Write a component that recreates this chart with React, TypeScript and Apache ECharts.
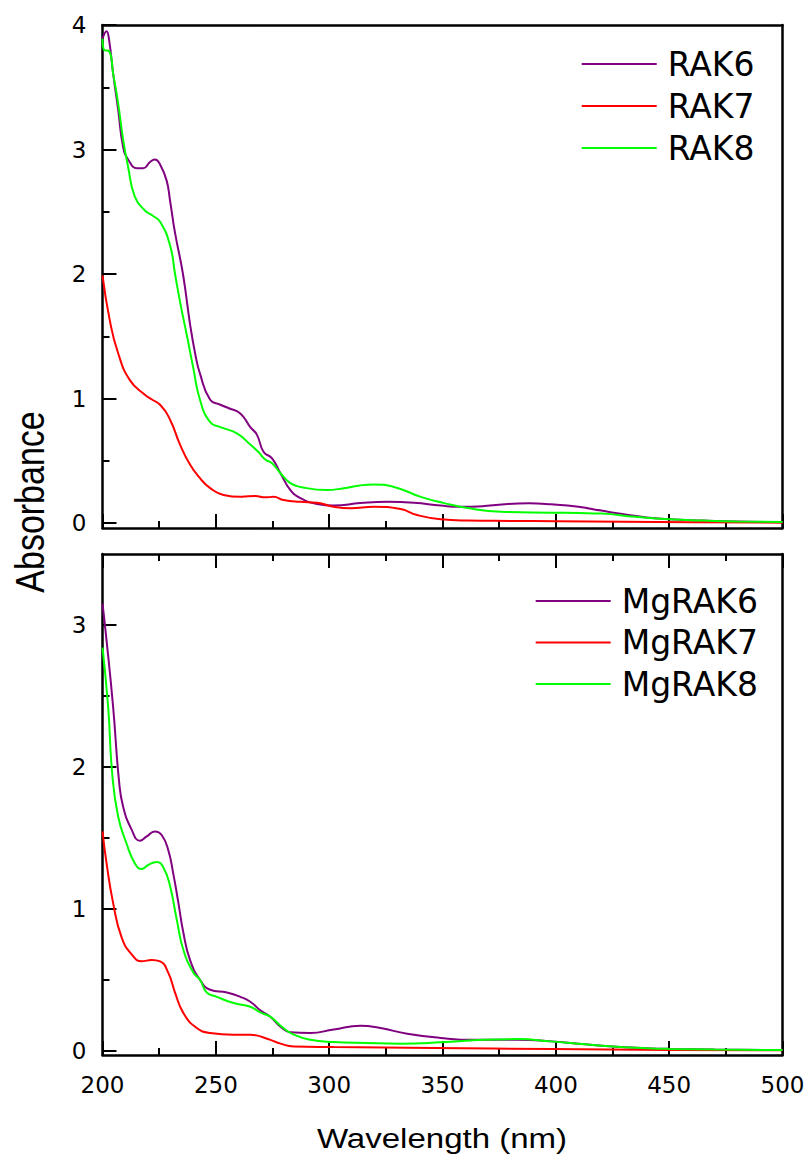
import React, { useEffect, useRef } from "react";
import * as echarts from "echarts";

// ---- Top panel (RAK series) ----
const rak6Wl = [200, 201.8, 202.9, 204.7, 206.9, 209.1, 211.3, 215.3, 218, 221, 223.1, 225.4, 228.3, 229.8, 232, 235.5, 238.6, 241, 243, 247.5, 252, 256, 260.8, 265.2, 268.1, 271.1, 274.8, 278.5, 282.9, 287.3, 294.7, 302, 313.8, 325.6, 337.4, 349.2, 358, 368.4, 378.8, 388, 398, 410, 420, 430, 440, 450, 465, 480, 500];
const rak6Abs = [3.89, 3.95, 3.88, 3.61, 3.32, 3.02, 2.92, 2.85, 2.85, 2.9, 2.92, 2.88, 2.75, 2.59, 2.33, 2.0, 1.6, 1.35, 1.2, 0.99, 0.95, 0.92, 0.88, 0.77, 0.71, 0.57, 0.52, 0.4, 0.265, 0.2, 0.153, 0.14, 0.16, 0.17, 0.163, 0.14, 0.13, 0.136, 0.153, 0.158, 0.15, 0.13, 0.1, 0.07, 0.045, 0.03, 0.02, 0.012, 0.008];

const rak7Wl = [200, 203.2, 206.8, 212, 218.7, 222, 225.4, 229.8, 234.2, 238.6, 243, 247.5, 253.4, 260.8, 264, 267.4, 271.8, 275.5, 279.9, 287.3, 294.7, 302, 309.4, 319.7, 331.5, 338.8, 349.2, 361, 380, 400, 430, 460, 500];
const rak7Abs = [1.99, 1.63, 1.37, 1.15, 1.03, 0.99, 0.95, 0.83, 0.63, 0.47, 0.36, 0.28, 0.225, 0.21, 0.215, 0.217, 0.206, 0.21, 0.185, 0.17, 0.163, 0.13, 0.118, 0.13, 0.112, 0.064, 0.03, 0.02, 0.017, 0.015, 0.01, 0.006, 0.003];

const rak8Wl = [200, 200.7, 202.9, 204.7, 206.9, 209.1, 211.3, 214.3, 218.7, 222, 225.4, 229.8, 232, 234.6, 237.3, 240, 243, 247.5, 252, 259.3, 265.2, 268.8, 271.8, 274.8, 278.5, 282.9, 287.3, 299.1, 306.5, 313, 319.7, 328.6, 340.4, 350.7, 361, 375.8, 398, 410, 420, 435, 450, 465, 480, 500];
const rak8Abs = [3.89, 3.8, 3.79, 3.61, 3.37, 3.08, 2.86, 2.62, 2.51, 2.47, 2.42, 2.23, 2.0, 1.74, 1.5, 1.25, 0.99, 0.81, 0.77, 0.72, 0.63, 0.57, 0.51, 0.48, 0.4, 0.32, 0.29, 0.265, 0.28, 0.3, 0.31, 0.29, 0.21, 0.16, 0.12, 0.09, 0.083, 0.08, 0.076, 0.05, 0.03, 0.02, 0.013, 0.008];

// ---- Bottom panel (MgRAK series) ----
const mg6Wl = [200, 201.8, 204.7, 207.3, 209.1, 212.8, 216.5, 219.5, 223.1, 226.1, 229, 231.2, 233.5, 235.7, 238.6, 243, 247.5, 254.9, 260.8, 265.2, 269.6, 274, 278.5, 282.9, 291.7, 302, 313.8, 322.6, 334.4, 349.2, 363.9, 383, 398, 410, 425, 440, 450, 470, 500];
const mg6Abs = [3.15, 2.89, 2.42, 1.9, 1.72, 1.56, 1.48, 1.51, 1.545, 1.52, 1.415, 1.25, 1.04, 0.83, 0.64, 0.5, 0.43, 0.41, 0.38, 0.345, 0.285, 0.24, 0.17, 0.13, 0.125, 0.15, 0.176, 0.16, 0.12, 0.09, 0.077, 0.077, 0.066, 0.05, 0.03, 0.018, 0.013, 0.008, 0.005];

const mg7Wl = [200, 201.8, 204.7, 208.4, 212.8, 217.3, 221.7, 225.4, 229, 232, 235.7, 241.6, 247.5, 257.8, 265.2, 272.6, 278.5, 284.4, 302, 346, 398, 450, 500];
const mg7Abs = [1.545, 1.32, 1.04, 0.8, 0.68, 0.63, 0.64, 0.63, 0.55, 0.41, 0.265, 0.16, 0.125, 0.113, 0.113, 0.085, 0.05, 0.03, 0.026, 0.019, 0.012, 0.006, 0.003];

const mg8Wl = [200, 202.5, 204.3, 206.9, 210.6, 214.3, 217.3, 220.2, 223.9, 226.9, 229.8, 232.8, 235.7, 240.1, 243, 246, 250.4, 257.8, 265.2, 269.6, 274, 279.2, 284.4, 291.7, 302, 316.7, 331.5, 349.2, 368.4, 383, 398, 410, 425, 440, 450, 470, 500];
const mg8Abs = [2.84, 2.42, 1.95, 1.65, 1.46, 1.32, 1.28, 1.31, 1.33, 1.29, 1.16, 0.92, 0.71, 0.55, 0.5, 0.41, 0.38, 0.336, 0.31, 0.27, 0.24, 0.167, 0.113, 0.077, 0.061, 0.054, 0.05, 0.059, 0.077, 0.082, 0.066, 0.05, 0.03, 0.018, 0.013, 0.008, 0.005];

const topNames = ["RAK6", "RAK7", "RAK8"];
const bottomNames = ["MgRAK6", "MgRAK7", "MgRAK8"];
const colors = ["#800080", "#ff0000", "#00ff00"];

// y tick ranges (major step 1, minor ticks halfway)
const topTickMax = 4;
const bottomTickMax = 3;

const pairs = (x: number[], y: number[]) => x.map((v, i) => [v, y[i]]);

export default function App() {
  const ref = useRef<HTMLDivElement>(null);
  useEffect(() => {
    const chart = echarts.init(ref.current!, null, { renderer: "svg" });
    const font = "DejaVu Sans";
    const axisLine = { show: true, onZero: false, lineStyle: { color: "#000", width: 2.5 } };
    const tickStyle = { color: "#000", width: 2 };

    // main data grids (frames), and tick grids whose 0..max align with the data scale
    const topMin = -0.04, topMax = 4, bottomMin = -0.03, bottomMax = 3.5;
    const g0 = { left: 102.5, top: 25, width: 680, height: 503 };
    const g1 = { left: 102.5, top: 554, width: 680, height: 501 };
    const zeroTop = g0.top + g0.height * (topMax / (topMax - topMin));
    const zeroBot = g1.top + g1.height * (bottomMax / (bottomMax - bottomMin));
    const pxPerBot = g1.height / (bottomMax - bottomMin);
    const g2 = { left: 102.5, top: g0.top, width: 680, height: zeroTop - g0.top };
    const g3 = { left: 102.5, top: zeroBot - pxPerBot * bottomTickMax, width: 680, height: pxPerBot * bottomTickMax };
    const grids = [g0, g1, g2, g3].map((g) => ({ ...g, outerBoundsMode: "none" }));

    const xAxes: any[] = [];
    [0, 1].forEach((gi) => {
      xAxes.push({
        type: "value", gridIndex: gi, position: "bottom", min: 200, max: 500, interval: 50,
        axisLine,
        axisTick: { show: true, inside: true, length: 14, lineStyle: tickStyle },
        minorTick: { show: true, splitNumber: 2, length: 7, lineStyle: tickStyle },
        axisLabel: { show: gi === 1, fontSize: 23, lineHeight: 23, fontFamily: font, color: "#000", margin: 18 },
        splitLine: { show: false }, minorSplitLine: { show: false },
      });
      xAxes.push({
        type: "value", gridIndex: gi, position: "top", min: 200, max: 500, interval: 50,
        axisLine,
        axisTick: { show: gi === 1, inside: true, length: 14, lineStyle: tickStyle },
        minorTick: { show: gi === 1, splitNumber: 2, length: 7, lineStyle: tickStyle },
        axisLabel: { show: false },
        splitLine: { show: false }, minorSplitLine: { show: false },
      });
    });
    [2, 3].forEach((gi) => {
      xAxes.push({ type: "value", gridIndex: gi, min: 200, max: 500, show: false });
    });

    const yAxes: any[] = [];
    [[0, topMin, topMax], [1, bottomMin, bottomMax]].forEach(([gi, mn, mx]) => {
      yAxes.push({
        type: "value", gridIndex: gi, position: "left", min: mn, max: mx,
        axisLine, axisTick: { show: false }, axisLabel: { show: false }, splitLine: { show: false },
      });
      yAxes.push({
        type: "value", gridIndex: gi, position: "right", min: mn, max: mx,
        axisLine, axisTick: { show: false }, axisLabel: { show: false }, splitLine: { show: false },
      });
    });
    [[2, topTickMax], [3, bottomTickMax]].forEach(([gi, mx]) => {
      yAxes.push({
        type: "value", gridIndex: gi, position: "left", min: 0, max: mx, interval: 1,
        axisLine: { show: false },
        axisTick: { show: true, inside: true, length: 14, lineStyle: tickStyle },
        minorTick: { show: true, splitNumber: 2, length: 7, lineStyle: tickStyle },
        axisLabel: { show: true, fontSize: 23, fontFamily: font, color: "#000", margin: 16 },
        splitLine: { show: false }, minorSplitLine: { show: false },
      });
    });

    const mk = (name: string, data: number[][], color: string, xi: number, yi: number) => ({
      name, type: "line", xAxisIndex: xi, yAxisIndex: yi, data,
      symbol: "none", showSymbol: false, smooth: 0.5,
      lineStyle: { color, width: 2 }, itemStyle: { color },
    });

    const series = [
      mk(topNames[0], pairs(rak6Wl, rak6Abs), colors[0], 0, 0),
      mk(topNames[1], pairs(rak7Wl, rak7Abs), colors[1], 0, 0),
      mk(topNames[2], pairs(rak8Wl, rak8Abs), colors[2], 0, 0),
      mk(bottomNames[0], pairs(mg6Wl, mg6Abs), colors[0], 2, 2),
      mk(bottomNames[1], pairs(mg7Wl, mg7Abs), colors[1], 2, 2),
      mk(bottomNames[2], pairs(mg8Wl, mg8Abs), colors[2], 2, 2),
    ];

    const legendText = { fontSize: 33, lineHeight: 33, fontFamily: font, color: "#000", padding: [0, 0, 0, 6] };
    chart.setOption({
      animation: false,
      backgroundColor: "#fff",
      grid: grids,
      xAxis: xAxes,
      yAxis: yAxes,
      legend: [
        { data: topNames, orient: "vertical", left: 581.7, top: 47.5, padding: 0, icon: "rect", itemWidth: 75, itemHeight: 2, itemGap: 9, textStyle: legendText, selectedMode: false },
        { data: bottomNames, orient: "vertical", left: 535.7, top: 584.5, padding: 0, icon: "rect", itemWidth: 75, itemHeight: 2, itemGap: 8.5, textStyle: legendText, selectedMode: false },
      ],
      graphic: [
        { type: "text", x: 30, y: 502, rotation: Math.PI / 2, scaleY: 1.18, style: { text: "Absorbance", fontSize: 34, fontFamily: "Liberation Sans", fill: "#000", align: "center", verticalAlign: "middle" } },
        { type: "text", x: 442, y: 1138, scaleX: 1.18, style: { text: "Wavelength (nm)", fontSize: 28, fontFamily: "Liberation Sans", fill: "#000", align: "center", verticalAlign: "middle" } },
      ],
      series,
    });
    return () => chart.dispose();
  }, []);
  return <div ref={ref} style={{ position: "fixed", left: 0, top: 0, width: 809, height: 1155 }} />;
}
